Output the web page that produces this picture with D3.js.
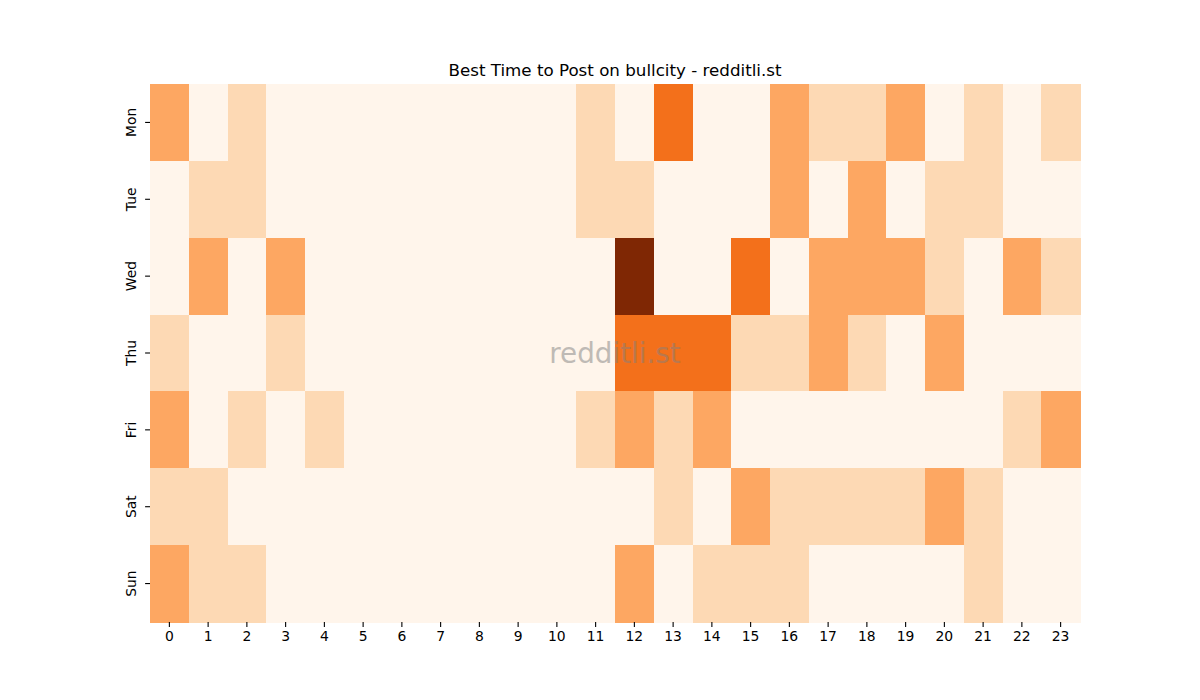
<!DOCTYPE html>
<html>
<head>
<meta charset="utf-8">
<script src="https://cdn.jsdelivr.net/npm/d3@7"></script>
<style>
  body { margin: 0; background: #fff; }
  text { font-family: "DejaVu Sans", sans-serif; }
</style>
</head>
<body>
<div class="chart"></div>
<script>
var days = ["Mon", "Tue", "Wed", "Thu", "Fri", "Sat", "Sun"];
var hours = d3.range(24);

// post counts per hour, one row per day
var mon = [2, 0, 1, 0, 0, 0, 0, 0, 0, 0, 0, 1, 0, 3, 0, 0, 2, 1, 1, 2, 0, 1, 0, 1];
var tue = [0, 1, 1, 0, 0, 0, 0, 0, 0, 0, 0, 1, 1, 0, 0, 0, 2, 0, 2, 0, 1, 1, 0, 0];
var wed = [0, 2, 0, 2, 0, 0, 0, 0, 0, 0, 0, 0, 5, 0, 0, 3, 0, 2, 2, 2, 1, 0, 2, 1];
var thu = [1, 0, 0, 1, 0, 0, 0, 0, 0, 0, 0, 0, 3, 3, 3, 1, 1, 2, 1, 0, 2, 0, 0, 0];
var fri = [2, 0, 1, 0, 1, 0, 0, 0, 0, 0, 0, 1, 2, 1, 2, 0, 0, 0, 0, 0, 0, 0, 1, 2];
var sat = [1, 1, 0, 0, 0, 0, 0, 0, 0, 0, 0, 0, 0, 1, 0, 2, 1, 1, 1, 1, 2, 1, 0, 0];
var sun = [2, 1, 1, 0, 0, 0, 0, 0, 0, 0, 0, 0, 2, 0, 1, 1, 1, 0, 0, 0, 0, 1, 0, 0];
var counts = [mon, tue, wed, thu, fri, sat, sun];

var margin = { top: 84, right: 120, bottom: 78, left: 150 },
  width = 1200 - margin.left - margin.right,
  height = 700 - margin.top - margin.bottom;

var svg = d3
  .select(".chart")
  .append("svg")
  .attr("width", 1200)
  .attr("height", 700)
  .append("g")
  .attr("transform", "translate(" + margin.left + "," + margin.top + ")");

var x = d3.scaleBand().domain(hours).range([0, width]);
var y = d3.scaleBand().domain(days).range([0, height]);

// matplotlib "Oranges" stops
var orangeStops = ["#fff5eb", "#fee6ce", "#fdd0a2", "#fdae6b", "#fd8d3c",
  "#f16913", "#d94801", "#a63603", "#7f2704"];
var maxCount = d3.max(counts, function (r) { return d3.max(r); });
var color = d3
  .scaleLinear()
  .domain(d3.range(9).map(function (i) { return (i / 8) * maxCount; }))
  .range(orangeStops);

var cells = [];
counts.forEach(function (row, i) {
  row.forEach(function (v, h) {
    cells.push({ day: days[i], hour: h, value: v });
  });
});

svg
  .selectAll("rect.cell")
  .data(cells)
  .enter()
  .append("rect")
  .attr("class", "cell")
  .attr("x", function (d) { return x(d.hour); })
  .attr("y", function (d) { return y(d.day); })
  .attr("width", x.bandwidth() + 0.5)
  .attr("height", y.bandwidth() + 0.5)
  .attr("shape-rendering", "crispEdges")
  .style("fill", function (d) { return color(d.value); });

var xAxis = svg
  .append("g")
  .attr("transform", "translate(0," + height + ")")
  .call(d3.axisBottom(x).tickSize(4.9).tickPadding(4.5));
xAxis.select(".domain").remove();
xAxis.selectAll("text").style("font-size", "13.9px").style("fill", "#000");
xAxis.selectAll("line").attr("stroke", "#000").attr("stroke-width", 1.1);

var yAxis = svg.append("g").call(d3.axisLeft(y).tickSize(4.9).tickPadding(0));
yAxis.select(".domain").remove();
yAxis.selectAll("line").attr("stroke", "#000").attr("stroke-width", 1.1);
yAxis
  .selectAll("text")
  .style("font-size", "13.9px")
  .style("fill", "#000")
  .attr("x", null)
  .attr("dy", null)
  .attr("text-anchor", "middle")
  .attr("transform", "translate(-14,0) rotate(-90)");

svg
  .append("text")
  .attr("x", width / 2)
  .attr("y", -8.3)
  .attr("text-anchor", "middle")
  .style("font-size", "16.7px")
  .text("Best Time to Post on bullcity - redditli.st");

svg
  .append("text")
  .attr("x", width / 2)
  .attr("y", height / 2)
  .attr("dy", "0.35em")
  .attr("text-anchor", "middle")
  .style("font-size", "27.8px")
  .style("fill", "gray")
  .style("opacity", 0.5)
  .text("redditli.st");
</script>
</body>
</html>
